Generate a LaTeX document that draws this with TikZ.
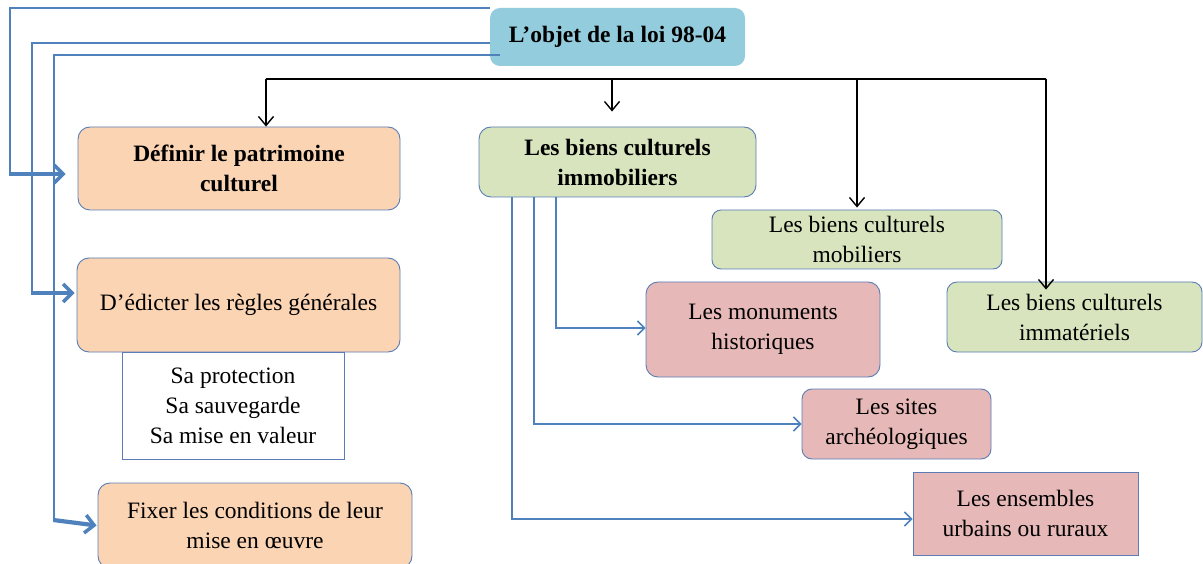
\documentclass[tikz,border=0pt]{standalone}
\usepackage{fontspec}
\setmainfont{Liberation Serif}
\usetikzlibrary{arrows.meta}
\definecolor{peach}{HTML}{FBD4B4}
\definecolor{sage}{HTML}{D7E4BD}
\definecolor{rose}{HTML}{E6B9B8}
\definecolor{sky}{HTML}{93CDDD}
\definecolor{lineblue}{HTML}{4F81BD}
\definecolor{edgeblue}{HTML}{5B7DB5}
\begin{document}
\begin{tikzpicture}[x=1pt,y=-1pt,
  box/.style={draw=edgeblue, line width=0.9pt, rounded corners=12pt, inner sep=0pt, align=center,
              font=\fontsize{23.5}{30}\selectfont},
  sqbox/.style={box, rounded corners=0pt},
  bluelink/.style={draw=lineblue, line width=1.5pt},
  bluearrow/.style={bluelink, -{Straight Barb[length=7pt,width=14pt]}},
  thickarrow/.style={draw=lineblue, line width=4.2pt, -{Straight Barb[length=9pt,width=18pt,line width=3.5pt]}},
  blkline/.style={draw=black, line width=1.4pt},
  blkarrow/.style={blkline, -{Straight Barb[length=9pt,width=15pt]}}
]
\useasboundingbox (0,0) rectangle (1203,564);
\fill[white] (0,0) rectangle (1203,564);

% nodes
\node[box, fill=sky, draw=none, rounded corners=10pt, minimum width=255pt, minimum height=58pt, font=\fontsize{23.5}{30}\selectfont\bfseries]
  (title) at (617.5,37) {L’objet de la loi 98-04};
\node[box, fill=peach, minimum width=322pt, minimum height=83pt, font=\fontsize{23.5}{30}\selectfont\bfseries]
  (def) at (239,168.5) {Définir le patrimoine\\culturel};
\node[box, fill=peach, minimum width=323pt, minimum height=94pt]
  (edi) at (238.5,305) {D’édicter les règles générales};
\node[sqbox, fill=white, minimum width=222pt, minimum height=107pt]
  (sub) at (233,405.5) {Sa protection\\Sa sauvegarde\\Sa mise en valeur};
\node[box, fill=peach, minimum width=314pt, minimum height=85pt]
  (fix) at (255,525.5) {Fixer les conditions de leur\\mise en œuvre};
\node[box, fill=sage, minimum width=277pt, minimum height=70pt, font=\fontsize{23.5}{30}\selectfont\bfseries]
  (imm) at (617.5,162) {Les biens culturels\\immobiliers};
\node[box, fill=sage, rounded corners=9pt, minimum width=290pt, minimum height=59pt]
  (mob) at (857,239.5) {Les biens culturels\\mobiliers};
\node[box, fill=sage, rounded corners=10pt, minimum width=255pt, minimum height=70pt]
  (ima) at (1074.5,317) {Les biens culturels\\immatériels};
\node[box, fill=rose, minimum width=234pt, minimum height=95pt]
  (mon) at (763,329.5) {Les monuments\\historiques};
\node[box, fill=rose, rounded corners=10pt, minimum width=189pt, minimum height=70pt]
  (sit) at (896.5,424) {Les sites\\archéologiques};
\node[sqbox, fill=rose, minimum width=225pt, minimum height=83pt]
  (ens) at (1025.5,513.5) {Les ensembles\\urbains ou ruraux};

% left blue connectors from the title
\coordinate (t1) at (490,8);
\coordinate (t2) at (490,43);
\coordinate (t3) at (500,55);
\coordinate (c1) at (10,174);
\coordinate (c2) at (32,293);
\coordinate (c3) at (54,520);
\draw[bluelink] (t1) -- (10,8) -- (c1);
\draw[bluelink] (t2) -- (32,43) -- (c2);
\draw[bluelink] (t3) -- (54,55) -- (c3);
\draw[thickarrow] ([xshift=-0.75pt]c1) -- ([xshift=-12pt]def.west |- c1);
\draw[thickarrow] ([xshift=-0.75pt]c2) -- ([xshift=-2pt]edi.west |- c2);
\draw[thickarrow] ([xshift=-0.75pt]c3) -- ([xshift=-1pt]fix.west);

% black connectors
\coordinate (bl) at (266,79);
\coordinate (bm) at (612,79);
\coordinate (bn) at (857,79);
\coordinate (br) at (1046,79);
\draw[blkline] (bl) -- (br);
\draw[blkarrow] (bl) -- (bl |- def.north);
\draw[blkarrow] (bm) -- ([yshift=15pt]bm |- imm.north);
\draw[blkarrow] (bn) -- ([yshift=2pt]bn |- mob.north);
\draw[blkarrow] (br) -- ([yshift=-8pt]br |- ima.north);

% blue connectors from immobiliers
\draw[bluearrow] (556,197) -- (556,328) -- (mon.west |- 0,328);
\draw[bluearrow] (534,197) -- (534,424) -- (sit.west);
\draw[bluearrow] (512,197) -- (512,519) -- (ens.west |- 0,519);
\end{tikzpicture}
\end{document}
